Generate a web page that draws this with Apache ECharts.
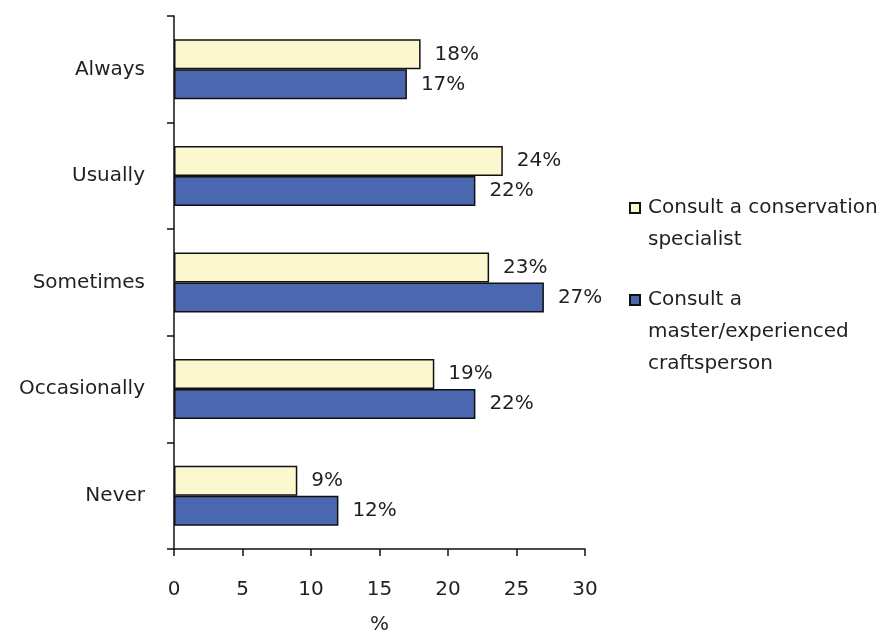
<!DOCTYPE html>
<html>
<head>
<meta charset="utf-8">
<script src="https://cdn.jsdelivr.net/npm/echarts@6/dist/echarts.min.js"></script>
<style>
html,body{margin:0;padding:0;background:#fff;}
#chart{width:896px;height:634px;}
</style>
</head>
<body>
<div id="chart"></div>
<script>
var categories = ['Always', 'Usually', 'Sometimes', 'Occasionally', 'Never'];
var specialistValues = [18, 24, 23, 19, 9];
var craftspersonValues = [17, 22, 27, 22, 12];
var xTicks = [0, 5, 10, 15, 20, 25, 30];
var seriesNames = ['Consult a conservation specialist', 'Consult a master/experienced craftsperson'];
var legendLabels = {
  'Consult a conservation specialist': '\nConsult a conservation\nspecialist',
  'Consult a master/experienced craftsperson': '\n\nConsult a\nmaster/experienced\ncraftsperson'
};

var FONT = 'DejaVu Sans';
var TXT = '#231f20';
var chart = echarts.init(document.getElementById('chart'), null, {renderer: 'canvas'});
chart.setOption({
  animation: false,
  textStyle: {fontFamily: FONT},
  grid: {left: 174, right: 311, top: 16, bottom: 85, containLabel: false, outerBoundsMode: 'none'},
  xAxis: {
    type: 'value',
    min: xTicks[0],
    max: xTicks[xTicks.length - 1],
    interval: 5,
    name: '%',
    nameLocation: 'middle',
    nameGap: 66,
    nameTextStyle: {fontFamily: FONT, fontSize: 20, color: TXT},
    axisLine: {show: true, lineStyle: {color: '#111', width: 1.5}},
    axisTick: {show: true, inside: false, length: 7, lineStyle: {color: '#111', width: 1.5}},
    axisLabel: {fontFamily: FONT, fontSize: 20, color: TXT, margin: 31},
    splitLine: {show: false}
  },
  yAxis: {
    type: 'category',
    inverse: true,
    data: categories,
    axisLine: {show: true, lineStyle: {color: '#111', width: 1.5}},
    axisTick: {show: true, inside: false, length: 7, lineStyle: {color: '#111', width: 1.5}},
    axisLabel: {fontFamily: FONT, fontSize: 20, color: TXT, margin: 29},
    splitLine: {show: false}
  },
  legend: {
    orient: 'vertical',
    left: 629,
    top: 160,
    padding: 0,
    itemGap: -36,
    itemWidth: 10,
    itemHeight: 10,
    icon: 'rect',
    data: seriesNames,
    formatter: function (name) { return legendLabels[name]; },
    textStyle: {fontFamily: FONT, fontSize: 20, color: TXT, lineHeight: 32, padding: [0, 0, 0, 3]}
  },
  series: [
    {
      name: seriesNames[0],
      type: 'bar',
      data: specialistValues,
      barWidth: 30,
      barGap: '0%',
      itemStyle: {color: '#fbf8d0', borderColor: '#111', borderWidth: 1.5},
      label: {show: true, position: 'right', distance: 14, formatter: '{c}%', fontFamily: FONT, fontSize: 20, color: TXT}
    },
    {
      name: seriesNames[1],
      type: 'bar',
      data: craftspersonValues,
      barWidth: 30,
      barGap: '0%',
      itemStyle: {color: '#4a67af', borderColor: '#111', borderWidth: 1.5},
      label: {show: true, position: 'right', distance: 14, formatter: '{c}%', fontFamily: FONT, fontSize: 20, color: TXT}
    }
  ]
});
</script>
</body>
</html>
